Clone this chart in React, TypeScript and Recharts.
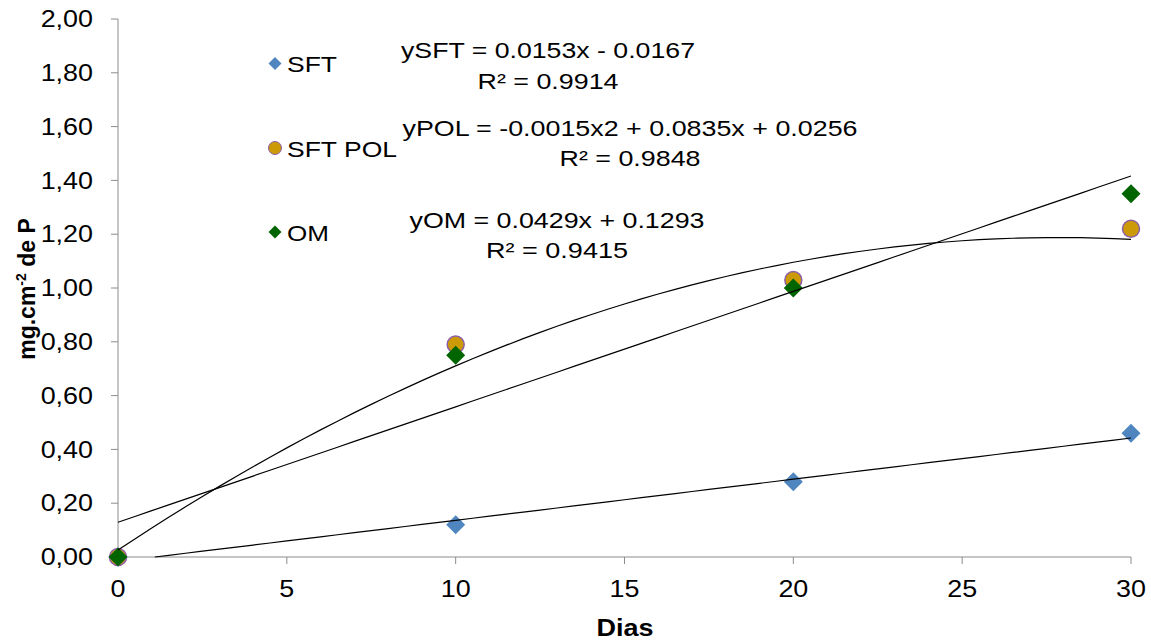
import React from 'react';
import { ComposedChart, Scatter, XAxis, YAxis } from 'recharts';

const days = [0, 10, 20, 30];
const sft = [0, 0.12, 0.28, 0.46];
const sftPol = [0, 0.79, 1.03, 1.22];
const om = [0, 0.75, 1.0, 1.35];

const xTicks = [0, 5, 10, 15, 20, 25, 30];
const yTicks = [0, 0.2, 0.4, 0.6, 0.8, 1.0, 1.2, 1.4, 1.6, 1.8, 2.0];

// trendline coefficients as printed on the chart: y = a*x^2 + b*x + c
const sftFit = [0, 0.0153, -0.0167];
const polFit = [-0.0015, 0.0835, 0.0256];
const omFit = [0, 0.0429, 0.1293];

const eqLabels = [
  { eq: 'ySFT = 0.0153x - 0.0167', r2: 'R² = 0.9914' },
  { eq: 'yPOL = -0.0015x2 + 0.0835x + 0.0256', r2: 'R² = 0.9848' },
  { eq: 'yOM = 0.0429x + 0.1293', r2: 'R² = 0.9415' },
];

const BLUE = '#4F86C0';
const ORANGE = '#CC9A06';
const PURPLE = '#8B5FA8';
const GREEN = '#006400';
const AXIS = '#8c8c8c';
const FONT = '"Liberation Sans", Arial, sans-serif';
const SX = 1.17; // the original text is drawn a bit wide

const toPoints = (ys: number[]) => days.map((d, i) => ({ x: d, y: ys[i] }));

// sample the printed fit over the day range, starting where it enters y >= 0
function trend([a, b, c]: number[]) {
  const pts: { x: number; y: number }[] = [];
  let start = 0;
  if (c < 0 && a === 0) start = -c / b;
  pts.push({ x: start, y: a * start * start + b * start + c });
  for (let x = Math.ceil(start * 2) / 2; x <= 30; x += 0.5) {
    if (x <= start) continue;
    pts.push({ x, y: a * x * x + b * x + c });
  }
  return pts;
}

const Diamond = (color: string, h: number) => (p: any) => {
  const { cx, cy } = p;
  if (cx == null || cy == null) return <g />;
  return (
    <polygon
      points={`${cx},${cy - h} ${cx + h},${cy} ${cx},${cy + h} ${cx - h},${cy}`}
      fill={color}
    />
  );
};

const Dot = (p: any) => {
  const { cx, cy } = p;
  if (cx == null || cy == null) return <g />;
  return <circle cx={cx} cy={cy} r={8.5} fill={ORANGE} stroke={PURPLE} strokeWidth={1.5} />;
};

const NoShape = () => <g />;

const fmt = (v: number) => v.toFixed(2).replace('.', ',');

const YTick = (p: any) => (
  <text
    transform={`translate(${p.x},${p.y}) scale(${SX},1)`}
    textAnchor="end"
    dy="0.36em"
    fontSize={23}
    fontFamily={FONT}
    fill="#000"
  >
    {fmt(p.payload.value)}
  </text>
);

const XTick = (p: any) => (
  <text
    transform={`translate(${p.x},${p.y}) scale(${SX},1)`}
    textAnchor="middle"
    dy={33}
    fontSize={23}
    fontFamily={FONT}
    fill="#000"
  >
    {p.payload.value}
  </text>
);

function Txt({ x, y, w, anchor = 'start', children }: any) {
  return (
    <text
      x={x}
      y={y}
      textAnchor={anchor}
      textLength={w}
      lengthAdjust="spacingAndGlyphs"
      fontFamily={FONT}
      fontSize={22}
      fill="#000"
    >
      {children}
    </text>
  );
}

export default function App() {
  return (
    <div style={{ position: 'relative', width: 1151, height: 644, background: '#fff' }}>
      <style>{'body{margin:0}'}</style>
      <ComposedChart
        width={1151}
        height={644}
        margin={{ top: 19, right: 20, bottom: 27, left: 28 }}
      >
        <XAxis
          type="number"
          dataKey="x"
          domain={[0, 30]}
          ticks={xTicks}
          height={60}
          tickSize={7}
          tickMargin={0}
          stroke={AXIS}
          tick={XTick}
        />
        <YAxis
          type="number"
          dataKey="y"
          domain={[0, 2]}
          ticks={yTicks}
          width={90}
          tickSize={7}
          tickMargin={18}
          stroke={AXIS}
          tick={YTick}
        />
        <Scatter data={toPoints(sft)} shape={Diamond(BLUE, 9.5)} isAnimationActive={false} />
        <Scatter data={toPoints(sftPol)} shape={Dot} isAnimationActive={false} />
        <Scatter data={toPoints(om)} shape={Diamond(GREEN, 9.5)} isAnimationActive={false} />
        <Scatter data={trend(sftFit)} shape={NoShape} line={{ stroke: '#000', strokeWidth: 1.2 }} lineType="joint" isAnimationActive={false} />
        <Scatter data={trend(polFit)} shape={NoShape} line={{ stroke: '#000', strokeWidth: 1.2 }} lineType="joint" isAnimationActive={false} />
        <Scatter data={trend(omFit)} shape={NoShape} line={{ stroke: '#000', strokeWidth: 1.2 }} lineType="joint" isAnimationActive={false} />
      </ComposedChart>
      <svg
        width={1151}
        height={644}
        style={{ position: 'absolute', left: 0, top: 0, pointerEvents: 'none' }}
      >
        {/* legend */}
        <polygon points="275,57 281.5,63.5 275,70 268.5,63.5" fill={BLUE} />
        <Txt x={287} y={72} w={50}>SFT</Txt>
        <circle cx={275} cy={148} r={6.5} fill={ORANGE} stroke={PURPLE} strokeWidth={1} />
        <Txt x={287} y={157} w={110}>SFT POL</Txt>
        <polygon points="275,225.5 281.5,232 275,238.5 268.5,232" fill={GREEN} />
        <Txt x={287} y={241} w={42}>OM</Txt>

        {/* trendline labels */}
        <Txt x={548} y={58} w={294} anchor="middle">{eqLabels[0].eq}</Txt>
        <Txt x={548} y={89} w={141} anchor="middle">{eqLabels[0].r2}</Txt>
        <Txt x={630} y={136} w={455} anchor="middle">{eqLabels[1].eq}</Txt>
        <Txt x={630} y={166} w={141} anchor="middle">{eqLabels[1].r2}</Txt>
        <Txt x={557} y={228} w={295} anchor="middle">{eqLabels[2].eq}</Txt>
        <Txt x={557} y={258} w={142} anchor="middle">{eqLabels[2].r2}</Txt>

        {/* axis titles */}
        <text
          x={625}
          y={636}
          textAnchor="middle"
          textLength={57}
          lengthAdjust="spacingAndGlyphs"
          fontFamily={FONT}
          fontSize={24}
          fontWeight="bold"
        >
          Dias
        </text>
        <text
          transform="translate(35,289) rotate(-90)"
          textAnchor="middle"
          fontFamily={FONT}
          fontSize={23}
          fontWeight="bold"
        >
          mg.cm<tspan dy={-9} fontSize={14}>-2</tspan><tspan dy={9}> de P</tspan>
        </text>
      </svg>
    </div>
  );
}
